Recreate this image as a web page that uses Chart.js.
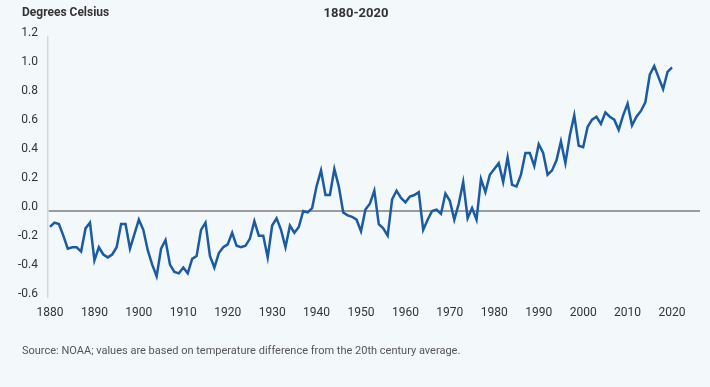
<!DOCTYPE html>
<html>
<head>
<meta charset="utf-8">
<script src="https://cdn.jsdelivr.net/npm/chart.js@4"></script>
<style>
  html, body { margin: 0; padding: 0; background: #f3f8fa; }
  #wrap { width: 710px; height: 387px; }
</style>
</head>
<body>
<div id="wrap"><canvas id="tempChart"></canvas></div>
<script>
const startYear = 1880;
const anomalies = [
  -0.11, -0.08, -0.09, -0.17, -0.26, -0.25, -0.25, -0.28, -0.12, -0.08,
  -0.34, -0.25, -0.30, -0.32, -0.30, -0.25, -0.09, -0.09, -0.26, -0.16,
  -0.06, -0.13, -0.27, -0.37, -0.45, -0.26, -0.20, -0.37, -0.42, -0.43,
  -0.39, -0.43, -0.33, -0.31, -0.13, -0.08, -0.31, -0.39, -0.29, -0.25,
  -0.23, -0.15, -0.24, -0.25, -0.24, -0.19, -0.07, -0.17, -0.17, -0.32,
  -0.10, -0.05, -0.13, -0.25, -0.10, -0.15, -0.11, -0.00, -0.01, 0.02,
  0.17, 0.28, 0.11, 0.11, 0.29, 0.17, -0.01, -0.03, -0.04, -0.06,
  -0.14, 0.01, 0.05, 0.14, -0.09, -0.12, -0.17, 0.08, 0.14, 0.09,
  0.06, 0.10, 0.11, 0.13, -0.13, -0.06, 0.00, 0.01, -0.02, 0.12,
  0.07, -0.06, 0.05, 0.20, -0.05, 0.02, -0.06, 0.22, 0.13, 0.25,
  0.29, 0.33, 0.20, 0.37, 0.18, 0.17, 0.25, 0.40, 0.40, 0.31,
  0.46, 0.40, 0.25, 0.28, 0.35, 0.48, 0.33, 0.52, 0.66, 0.45,
  0.44, 0.58, 0.63, 0.65, 0.60, 0.68, 0.65, 0.63, 0.56, 0.66,
  0.74, 0.59, 0.65, 0.69, 0.75, 0.94, 1.00, 0.92, 0.84, 0.96,
  0.99
];
const xTicks = [1880, 1890, 1900, 1910, 1920, 1930, 1940, 1950, 1960, 1970, 1980, 1990, 2000, 2010, 2020];
const yTicks = [-0.6, -0.4, -0.2, 0.0, 0.2, 0.4, 0.6, 0.8, 1.0, 1.2];
const chartTitle = "1880-2020";
const unitLabel = "Degrees Celsius";
const sourceNote = "Source: NOAA; values are based on temperature difference from the 20th century average.";

const points = anomalies.map((v, i) => ({ x: startYear + i, y: v }));

const narrow = '"Liberation Sans Narrow", "Arial Narrow", "Roboto", sans-serif';

// draws the y labels (sitting a little above their value), title, unit and source
const textPlugin = {
  id: "textPlugin",
  afterDraw(chart) {
    const ctx = chart.ctx;
    const y = chart.scales.y;
    ctx.save();
    ctx.fillStyle = "#333";
    ctx.font = "12px " + narrow;
    ctx.textAlign = "right";
    ctx.textBaseline = "middle";
    yTicks.forEach(v => {
      ctx.fillText(v.toFixed(1), 38, y.getPixelForValue(v) - 4);
    });
    ctx.textAlign = "left";
    ctx.font = "bold 12px " + narrow;
    ctx.fillText(unitLabel, 22, 13);
    ctx.textAlign = "center";
    ctx.font = "bold 13px " + narrow;
    ctx.fillText(chartTitle, 356, 14);
    ctx.textAlign = "left";
    ctx.font = "11px " + narrow;
    ctx.fillStyle = "#555";
    ctx.fillText(sourceNote, 22, 351);
    ctx.restore();
  }
};

new Chart(document.getElementById("tempChart"), {
  type: "line",
  data: {
    datasets: [{
      data: points,
      borderColor: "#1b5ba3",
      borderWidth: 2.5,
      pointRadius: 0,
      tension: 0,
      fill: false
    }]
  },
  options: {
    responsive: true,
    maintainAspectRatio: false,
    animation: false,
    layout: { padding: { top: 37, right: 10, left: 0, bottom: 0 } },
    plugins: {
      legend: { display: false },
      tooltip: { enabled: false }
    },
    scales: {
      x: {
        type: "linear",
        min: 1879.55,
        max: 2026.3,
        afterBuildTicks: s => { s.ticks = xTicks.map(v => ({ value: v })); },
        afterFit: s => { s.height = 89; },
        grid: { display: false, drawTicks: false },
        border: { display: false },
        ticks: {
          padding: 8,
          color: "#333",
          font: { family: narrow, size: 12 },
          callback: v => String(v),
          maxRotation: 0
        }
      },
      y: {
        min: -0.6,
        max: 1.2,
        afterBuildTicks: s => { s.ticks = yTicks.map(v => ({ value: v })); },
        afterFit: s => { s.width = 48; },
        grid: {
          drawTicks: false,
          color: c => (c.tick && c.tick.value === 0 ? "#9c9c9c" : "rgba(0,0,0,0)"),
          lineWidth: c => (c.tick && c.tick.value === 0 ? 2 : 0)
        },
        border: { display: true, color: "#d3d7d9", width: 1.5 },
        ticks: { display: false }
      }
    }
  },
  plugins: [textPlugin]
});
</script>
</body>
</html>
